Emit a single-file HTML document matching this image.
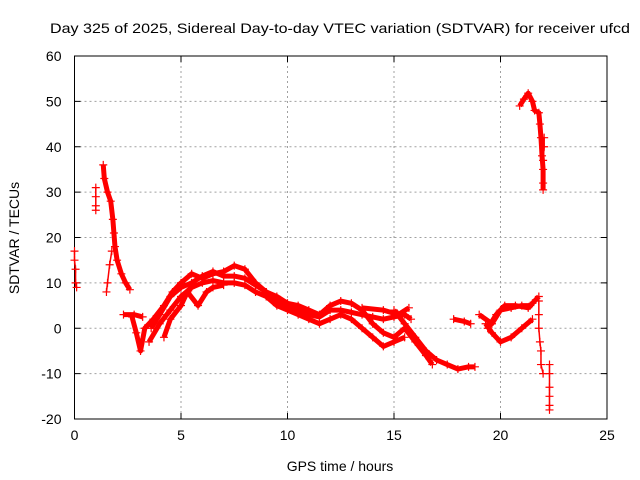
<!DOCTYPE html>
<html><head><meta charset="utf-8"><style>
body{margin:0;background:#fff}
svg{display:block;font-family:"Liberation Sans",sans-serif}
</style></head><body>
<svg id="chart" width="640" height="480">
<rect width="640" height="480" fill="#fff"/>
<text x="340" y="33" font-size="14" text-anchor="middle" textLength="580" lengthAdjust="spacingAndGlyphs">Day 325 of 2025, Sidereal Day-to-day VTEC variation (SDTVAR) for receiver ufcd</text>
<text x="340" y="471" font-size="14" text-anchor="middle">GPS time / hours</text>
<text transform="translate(19,238) rotate(-90)" font-size="14" text-anchor="middle">SDTVAR / TECUs</text>
<g id="grid"></g>
<g id="axes"></g>
<g id="marks"></g>
</svg>
<script>
const xTicks=[0,5,10,15,20,25];
const yTicks=[-20,-10,0,10,20,30,40,50,60];
const trackA=[[0,17],[0,15],[0.05,13],[0.05,10],[0.1,9]];
const trackB=[[1.0,31],[1.0,29],[1.0,27],[1.0,26]];
const trackC=[[1.35,36],[1.4,33],[1.55,30],[1.7,28],[1.8,24],[1.85,21],[1.9,18],[2.0,15],[2.2,12],[2.4,10],[2.6,8.5]];
const trackD=[[1.75,17],[1.65,14],[1.55,10],[1.5,8]];
const trackE=[[2.3,3],[2.8,3],[3.2,2.5]];
const trackF=[[2.7,2.5],[2.9,-1],[3.1,-5],[3.3,0],[3.7,2],[4.2,5],[4.6,8],[5.0,10],[5.5,12],[6.0,11],[6.5,12],[7,12.5],[7.5,13.8],[8,13],[8.5,10],[9,8],[9.5,7],[10,5.5],[10.5,5],[11,4],[11.5,3],[12,5],[12.5,6],[13,5.5],[13.5,4],[14,1],[14.5,-1],[15,-2],[15.5,0],[16,-3],[16.5,-6],[16.8,-8]];
const trackG=[[3.5,-3],[4,1],[4.5,4],[5,7],[5.5,9],[6,10],[6.5,10.5],[7,10],[7.5,10],[8,9.5],[8.5,8],[9,7],[9.5,5],[10,4],[10.5,3],[11,2],[11.5,1],[12,2],[12.5,3],[13,2],[13.5,0],[14,-2],[14.5,-4],[15,-3],[15.5,-2]];
const trackH=[[3.6,0],[4,3],[4.5,7],[5,9],[5.5,10],[6,11.5],[6.5,12.5],[7,11.5],[7.5,11.5],[8,11],[8.5,9.5],[9,8],[9.5,6],[10,5],[10.5,4],[11,3],[11.5,2.5],[12,4],[12.5,4],[13,3.5],[13.5,3],[14,2.5],[14.5,2],[15,2.5],[15.5,3],[15.8,2]];
const trackI=[[4.2,-2],[4.5,2],[5,5],[5.3,8],[5.8,5],[6.2,8],[6.5,9],[7,9.5]];
const trackJ=[[15,4],[15.5,1],[16,-2],[16.5,-5],[17,-7],[17.5,-8],[18,-9],[18.5,-8.5],[18.8,-8.5]];
const trackK=[[13.5,4.5],[14.5,4],[15.2,3],[15.7,4.5]];
const trackL=[[17.8,2],[18.3,1.5],[18.6,1]];
const trackM=[[19.4,0],[19.8,3],[20.2,5],[20.7,5],[21.3,4.5],[21.5,5.5],[21.8,7]];
const trackN=[[19.3,1],[19.6,-1],[20,-3],[20.5,-2],[21,0],[21.5,2]];
const trackO=[[19.0,3],[19.6,1],[20,4],[20.5,4.5],[21,5],[21.4,5]];
const trackP=[[21.8,6],[21.8,3],[21.8,0],[21.85,-3],[21.9,-5],[21.9,-8],[22,-10]];
const trackQ=[[22.3,-8],[22.3,-10],[22.3,-13],[22.3,-15],[22.3,-17],[22.3,-18]];
const trackR=[[20.9,49],[21.1,50.5],[21.3,51.8],[21.5,50],[21.6,48],[21.8,47.5],[21.85,45],[21.9,42],[21.95,38],[22.0,35],[22.0,32],[22.0,30.5]];
const trackS=[[22.05,42],[22.05,40],[22.0,37]];
const denseTracks=[trackC,trackE,trackF,trackG,trackH,trackI,trackJ,trackK,trackL,trackM,trackN,trackO,trackR];
const sparseTracks=[trackA,trackB,trackD,trackP,trackQ,trackS];

const X0=74.5,X1=607,Y0=419,Y1=56;
const xs=v=>X0+(v-0)/25*(X1-X0);
const ys=v=>Y0-(v+20)/80*(Y0-Y1);
const NS='http://www.w3.org/2000/svg';
function mk(t,a,p){const e=document.createElementNS(NS,t);for(const k in a)e.setAttribute(k,a[k]);p.appendChild(e);return e;}
const grid=document.getElementById('grid'),axes=document.getElementById('axes'),marks=document.getElementById('marks');
xTicks.forEach(t=>{
  const x=xs(t);
  if(t>0&&t<25){const l=mk('line',{x1:x,x2:x,y1:Y1,y2:Y0,stroke:'#a0a0a0','stroke-dasharray':'2,3'},grid);
  
  }
  mk('line',{x1:x,x2:x,y1:Y0,y2:Y0-6,stroke:'#000'},axes);
  mk('line',{x1:x,x2:x,y1:Y1,y2:Y1+6,stroke:'#000'},axes);
  const tx=mk('text',{x:x,y:Y0+21,'font-size':14,'text-anchor':'middle'},axes);tx.textContent=t;
  
  
});
yTicks.forEach(t=>{
  const y=ys(t);
  if(t>-20&&t<60){const l=mk('line',{x1:X0,x2:X1,y1:y,y2:y,stroke:'#a0a0a0','stroke-dasharray':'2,3'},grid);
  
  }
  mk('line',{x1:X0,x2:X0+6,y1:y,y2:y,stroke:'#000'},axes);
  mk('line',{x1:X1,x2:X1-6,y1:y,y2:y,stroke:'#000'},axes);
  const tx=mk('text',{x:X0-13,y:y+5,'font-size':14,'text-anchor':'end'},axes);tx.textContent=t;
  
  
});
mk('rect',{x:X0,y:Y1,width:X1-X0,height:Y0-Y1,fill:'none',stroke:'#000'},axes);
function plus(x,y){mk('path',{d:`M${x-4} ${y}h8M${x} ${y-4}v8`,stroke:'#f00','stroke-width':1.2},marks);}
denseTracks.forEach(tr=>{
  const p=mk('polyline',{points:tr.map(d=>xs(d[0])+','+ys(d[1])).join(' '),fill:'none',stroke:'#f00','stroke-width':5,'stroke-linejoin':'round'},marks);
  
  
  tr.forEach(d=>plus(xs(d[0]),ys(d[1])));
});
sparseTracks.forEach(tr=>{
  const p=mk('polyline',{points:tr.map(d=>xs(d[0])+','+ys(d[1])).join(' '),fill:'none',stroke:'#f00','stroke-width':1.5},marks);
  
  
  tr.forEach(d=>plus(xs(d[0]),ys(d[1])));
});
</script>
</body></html>
